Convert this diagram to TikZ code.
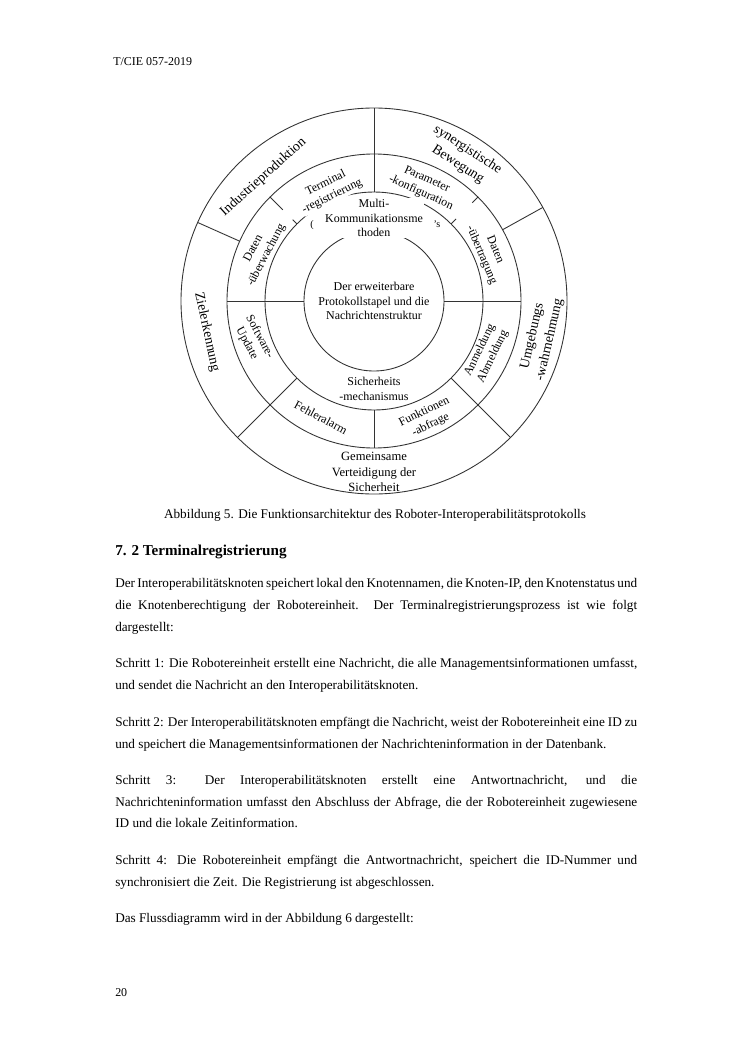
\documentclass[tikz,border=0pt]{standalone}
\usepackage{fontspec}
\setmainfont{Liberation Serif}
\newlength\LW
\setlength\LW{414.3pt}
\tikzset{
  ln/.style={line width=0.7pt, draw=black!80},
  lab/.style={font=\fontsize{9.5}{11.5}\selectfont, align=center, fill=white, inner sep=0.8pt},
  clab/.style={font=\fontsize{9.5}{11.5}\selectfont, align=center, inner sep=0.8pt},
  olab/.style={font=\fontsize{11}{14}\selectfont, align=center, inner sep=1pt},
  body/.style={anchor=base west, inner sep=0pt, font=\fontsize{10.5}{12}\selectfont},
  stray/.style={font=\fontsize{8}{9}\selectfont, inner sep=0pt}
}
\begin{document}
\begin{tikzpicture}[x=0.79370pt, y=0.79370pt]
\useasboundingbox (0,0) rectangle (750,-1060);
\fill[white] (0,0) rectangle (750,-1060);

% header
\node[anchor=base west, inner sep=0pt, font=\fontsize{9.5}{11}\selectfont] (hdr) at (113,-65) {T/CIE 057-2019};

% diagram
\begin{scope}[shift={(374,-301)}]
  \draw[ln] (0,0) circle (70);
  \draw[ln] (0,0) circle (109);
  \draw[ln] (0,0) circle (147);
  \draw[ln] (0,0) circle (193);
  % dividers
  \draw[ln] (90:109) -- (90:193);
  \draw[ln] (270:109) -- (270:147);
  \draw[ln] (0:70) -- (0:147);
  \draw[ln] (180:70) -- (180:147);
  \draw[ln] (29:147) -- (29:193);
  \draw[ln] (156:147) -- (156:193);
  \draw[ln] (-45:109) -- (-45:193);
  \draw[ln] (225:109) -- (225:193);
  \draw[ln] (45:109) -- (45:116);
  \draw[ln] (45:139) -- (45:147);
  \draw[ln] (135:109) -- (135:115);
  \draw[ln] (135:129) -- (135:147);

  % centre
  \node[clab] (inner) at (0,0) {Der erweiterbare\\Protokollstapel und die\\Nachrichtenstruktur};
  % ring 2
  \node[lab] (multi) at (0,83) {Multi-\\Kommunikationsme\\thoden};
  \node[lab] (sich) at (0,-88) {Sicherheits\\-mechanismus};
  \node[stray] (s1) at (-62,76) {(};
  \node[stray] (s2) at (63,77) {'s};
  % ring 3
  \node[lab, rotate=26] (term) at (112:120) {Terminal\\-registrierung};
  \node[lab, rotate=-24] (param) at (66.5:125) {Parameter\\-konfiguration};
  \node[lab, rotate=-67] (datue) at (23:124) {Daten\\-übertragung};
  \node[lab, rotate=64] (anm) at (-25:124) {Anmeldung\\Abmeldung};
  \node[lab, rotate=26] (funk) at (-65.5:129) {Funktionen\\-abfrage};
  \node[lab, rotate=-28] (fehl) at (245.5:128) {Fehleralarm};
  \node[lab, rotate=-62] (soft) at (198:127) {Software-\\Update};
  \node[lab, rotate=62] (datuw) at (156.7:124) {Daten\\-überwachung};
  % outer ring
  \node[olab, rotate=42] (ind) at (131.8:166) {Industrieproduktion};
  \node[olab, rotate=-33] (syn) at (58.3:169) {synergistische\\Bewegung};
  \node[olab, rotate=77] (umg) at (-12.5:171) {Umgebungs\\-wahrnehmung};
  \node[olab, rotate=-78] (ziel) at (190.5:170) {Zielerkennung};
  \node[clab, font=\fontsize{10}{12}\selectfont] (gem) at (0,-171) {Gemeinsame\\Verteidigung der\\Sicherheit};
\end{scope}

% caption
\node[anchor=base, inner sep=0pt, font=\fontsize{10.5}{12}\selectfont] (cap) at (375,-518) {Abbildung 5. Die Funktionsarchitektur des Roboter-Interoperabilitätsprotokolls};

% heading
\node[anchor=base west, inner sep=0pt, font=\fontsize{12}{14}\selectfont\bfseries] (head) at (115,-555) {7. 2 Terminalregistrierung};

% body
\node[body] (b1) at (115,-587) {\makebox[\LW][s]{Der Interoperabilitätsknoten speichert lokal den Knotennamen, die Knoten-IP, den Knotenstatus und}};
\node[body] (b2) at (115,-609) {\makebox[\LW][s]{die Knotenberechtigung der Robotereinheit. Der Terminalregistrierungsprozess ist wie folgt}};
\node[body] (b3) at (115,-631) {dargestellt:};
\node[body] (b4) at (115,-667) {\makebox[\LW][s]{Schritt 1: Die Robotereinheit erstellt eine Nachricht, die alle Managementsinformationen umfasst,}};
\node[body] (b5) at (115,-689) {und sendet die Nachricht an den Interoperabilitätsknoten.};
\node[body] (b6) at (115,-726) {\makebox[\LW][s]{Schritt 2: Der Interoperabilitätsknoten empfängt die Nachricht, weist der Robotereinheit eine ID zu}};
\node[body] (b7) at (115,-748) {und speichert die Managementsinformationen der Nachrichteninformation in der Datenbank.};
\node[body] (b8) at (115,-784) {\makebox[\LW][s]{Schritt 3: Der Interoperabilitätsknoten erstellt eine Antwortnachricht, und die}};
\node[body] (b9) at (115,-806) {\makebox[\LW][s]{Nachrichteninformation umfasst den Abschluss der Abfrage, die der Robotereinheit zugewiesene}};
\node[body] (b10) at (115,-827) {ID und die lokale Zeitinformation.};
\node[body] (b11) at (115,-864) {\makebox[\LW][s]{Schritt 4: Die Robotereinheit empfängt die Antwortnachricht, speichert die ID-Nummer und}};
\node[body] (b12) at (115,-886) {synchronisiert die Zeit. Die Registrierung ist abgeschlossen.};
\node[body] (b13) at (115,-922) {Das Flussdiagramm wird in der Abbildung 6 dargestellt:};

% page number
\node[anchor=base west, inner sep=0pt, font=\fontsize{9.5}{11}\selectfont] (pg) at (115,-996) {20};
\end{tikzpicture}
\end{document}
